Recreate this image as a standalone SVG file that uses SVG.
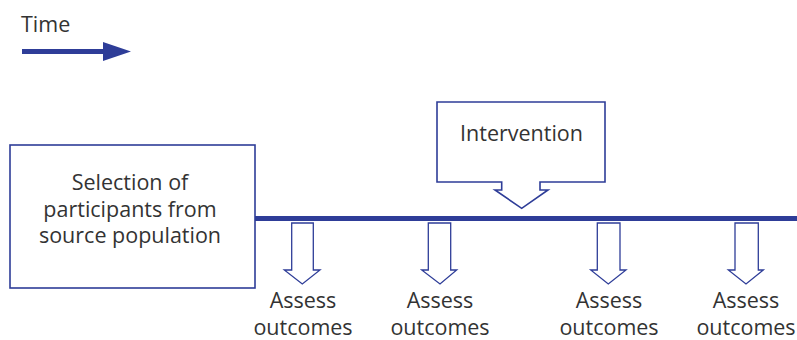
<svg xmlns="http://www.w3.org/2000/svg" width="797" height="340" viewBox="0 0 797 340">
<style>
text{font-family:"Open Sans","Noto Sans",sans-serif;font-size:21.5px;fill:#333;text-anchor:middle}
.box{fill:#fff;stroke:#2e3d98;stroke-width:1.6}
.arr{fill:#fff;stroke:#2e3d98;stroke-width:1.3}
</style>
<g id="time">
<text x="21" y="31.5" style="text-anchor:start">Time</text>
<line x1="22" y1="51.5" x2="106" y2="51.5" stroke="#2e3d98" stroke-width="5"/>
<polygon points="103,42 131,51.5 103,61" fill="#2e3d98"/>
</g>
<g id="connectors">
<line x1="255" y1="218.5" x2="797" y2="218.5" stroke="#2e3d98" stroke-width="5"/>
</g>
<g id="selection">
<rect class="box" x="10" y="145" width="245" height="143"/>
<text x="130" y="189.5">Selection of</text>
<text x="130" y="216.5">participants from</text>
<text x="130" y="243">source population</text>
</g>
<g id="intervention">
<path class="box" d="M437,102 H605 V182 H540 V190 H548 L521.7,208.3 L495,190 H501.7 V182 H437 Z"/>
<text x="521.5" y="140.5">Intervention</text>
</g>
<g id="assess1">
<path class="arr" d="M291.7,223 H313.3 V270 H320 L302.3,284 L284.3,270 H291.7 Z"/>
<text x="303" y="308">Assess</text>
<text x="303" y="334.5">outcomes</text>
</g>
<g id="assess2">
<path class="arr" d="M428.3,223 H450.7 V270 H456.7 L440,284 L421.7,270 H428.3 Z"/>
<text x="440" y="308">Assess</text>
<text x="440" y="334.5">outcomes</text>
</g>
<g id="assess3">
<path class="arr" d="M597.3,223 H620 V270 H626 L608.3,284 L590.7,270 H597.3 Z"/>
<text x="609" y="308">Assess</text>
<text x="609" y="334.5">outcomes</text>
</g>
<g id="assess4">
<path class="arr" d="M735,223 H758.3 V270 H763.3 L746,284 L728.3,270 H735 Z"/>
<text x="746" y="308">Assess</text>
<text x="746" y="334.5">outcomes</text>
</g>
</svg>
